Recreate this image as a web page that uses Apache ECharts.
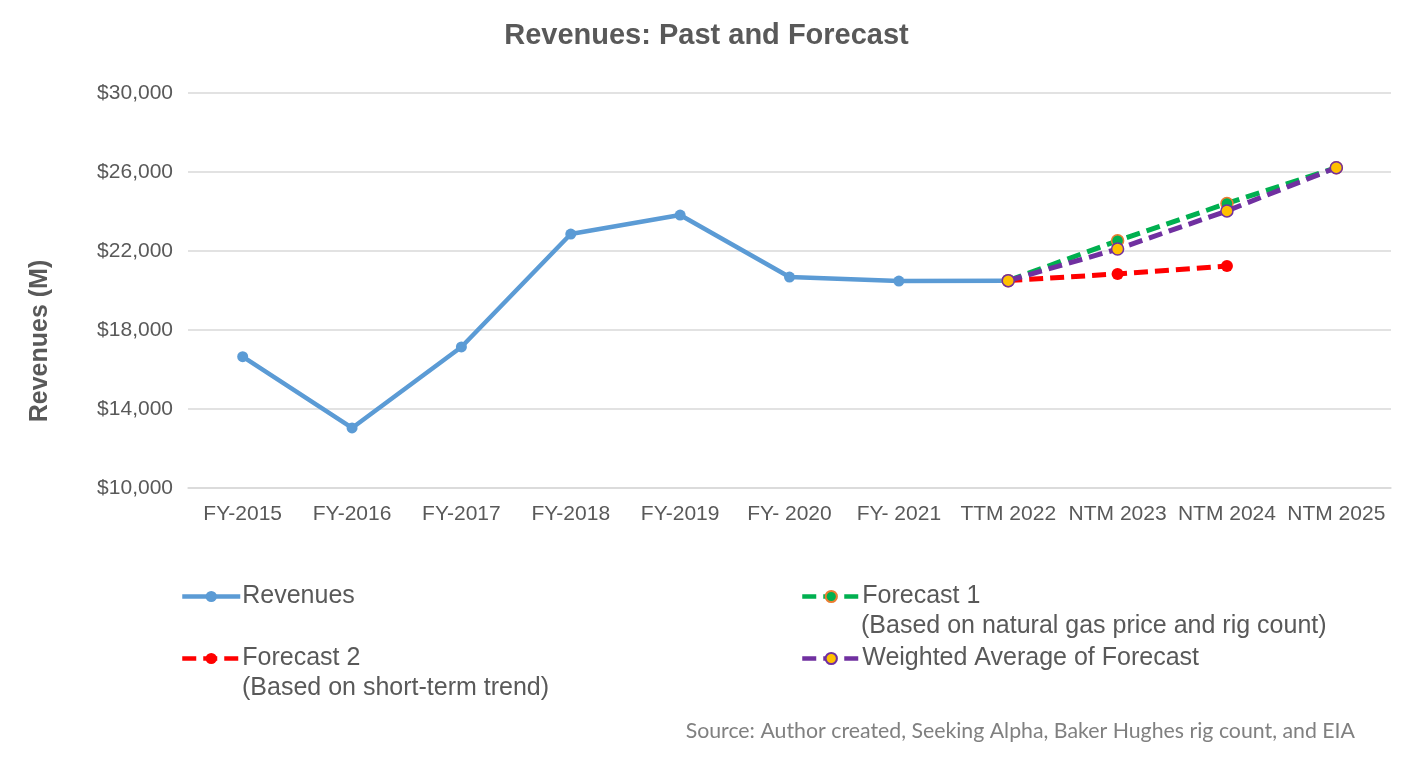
<!DOCTYPE html>
<html>
<head>
<meta charset="utf-8">
<script src="https://cdn.jsdelivr.net/npm/echarts@6/dist/echarts.min.js"></script>
<style>
html,body{margin:0;padding:0;background:#fff;}
#chart{width:1413px;height:758px;}
</style>
</head>
<body>
<div id="chart"></div>
<script>
var categories = ['FY-2015','FY-2016','FY-2017','FY-2018','FY-2019','FY- 2020','FY- 2021','TTM 2022','NTM 2023','NTM 2024','NTM 2025'];
var revenues = [16650, 13040, 17140, 22860, 23820, 20680, 20480, 20500, null, null, null];
var forecast1 = [null, null, null, null, null, null, null, 20500, 22520, 24410, 26220];
var forecast2 = [null, null, null, null, null, null, null, 20500, 20840, 21240, null];
var weighted = [null, null, null, null, null, null, null, 20500, 22100, 24030, 26220];
var yTicks = [10000, 14000, 18000, 22000, 26000, 30000];

var FONT = '"Liberation Sans", Arial, sans-serif';
var TXT = '#595959';

var chart = echarts.init(document.getElementById('chart'));
function legendAt(name, left, top) {
  return {
    data: [name], left: left, top: top, orient: 'horizontal',
    itemWidth: 58, itemHeight: 14, itemGap: 0, padding: 0,
    lineStyle: {width: 4.5},
    textStyle: {fontFamily: FONT, fontSize: 25, color: TXT, padding: [0,0,0,-3]}
  };
}
chart.setOption({
  animation: false,
  title: {
    text: 'Revenues: Past and Forecast', left: 'center', top: 16,
    textStyle: {fontFamily: FONT, fontSize: 29, fontWeight: 'bold', color: TXT}
  },
  grid: {left: 188, right: 22, top: 93, bottom: 270, containLabel: false},
  legend: [
    legendAt('Revenues', 180, 584),
    legendAt('Forecast 2', 180, 646),
    legendAt('Forecast 1', 800, 584),
    legendAt('Weighted Average of Forecast', 800, 646)
  ],
  graphic: [
    {type: 'text', left: 861, top: 614, style: {text: '(Based on natural gas price and rig count)', font: '25px ' + FONT, fill: TXT}},
    {type: 'text', left: 242, top: 676, style: {text: '(Based on short-term trend)', font: '25px ' + FONT, fill: TXT}},
    {type: 'text', right: 58, top: 721, style: {text: 'Source: Author created, Seeking Alpha, Baker Hughes rig count, and EIA', font: '21.3px Lato, "Open Sans", sans-serif', fill: '#808080'}},
    {type: 'text', x: 40, y: 341, rotation: Math.PI / 2,
      style: {text: 'Revenues (M)', font: 'bold 25px ' + FONT, fill: TXT, align: 'center', verticalAlign: 'middle'}}
  ],
  xAxis: {
    type: 'category', data: categories, boundaryGap: true,
    axisLine: {show: true, lineStyle: {color: '#d9d9d9', width: 1.5}},
    axisTick: {show: false},
    axisLabel: {fontFamily: FONT, fontSize: 21, color: TXT, margin: 16, interval: 0}
  },
  yAxis: {
    type: 'value', min: 10000, max: 30000, interval: 4000,
    axisLine: {show: false}, axisTick: {show: false},
    axisLabel: {fontFamily: FONT, fontSize: 21, color: TXT, margin: 15,
      formatter: function (v) { return '$' + v.toLocaleString('en-US'); }},
    splitLine: {lineStyle: {color: '#d9d9d9', width: 1.5}}
  },
  series: [
    {name: 'Revenues', type: 'line', data: revenues, symbol: 'circle', symbolSize: 11,
      lineStyle: {color: '#5B9BD5', width: 4.5}, itemStyle: {color: '#5B9BD5'}, z: 2},
    {name: 'Forecast 1', type: 'line', data: forecast1, symbol: 'circle', symbolSize: 12,
      lineStyle: {color: '#00B050', width: 5, type: [14, 7]},
      itemStyle: {color: '#00B050', borderColor: '#ED7D31', borderWidth: 1.5}, z: 3},
    {name: 'Forecast 2', type: 'line', data: forecast2, symbol: 'circle', symbolSize: 12,
      lineStyle: {color: '#FF0000', width: 5, type: [14, 7]},
      itemStyle: {color: '#FF0000'}, z: 3},
    {name: 'Weighted Average of Forecast', type: 'line', data: weighted, symbol: 'circle', symbolSize: 12,
      lineStyle: {color: '#7030A0', width: 5, type: [14, 7]},
      itemStyle: {color: '#FFC000', borderColor: '#7030A0', borderWidth: 1.5}, z: 4}
  ]
});
</script>
</body>
</html>
